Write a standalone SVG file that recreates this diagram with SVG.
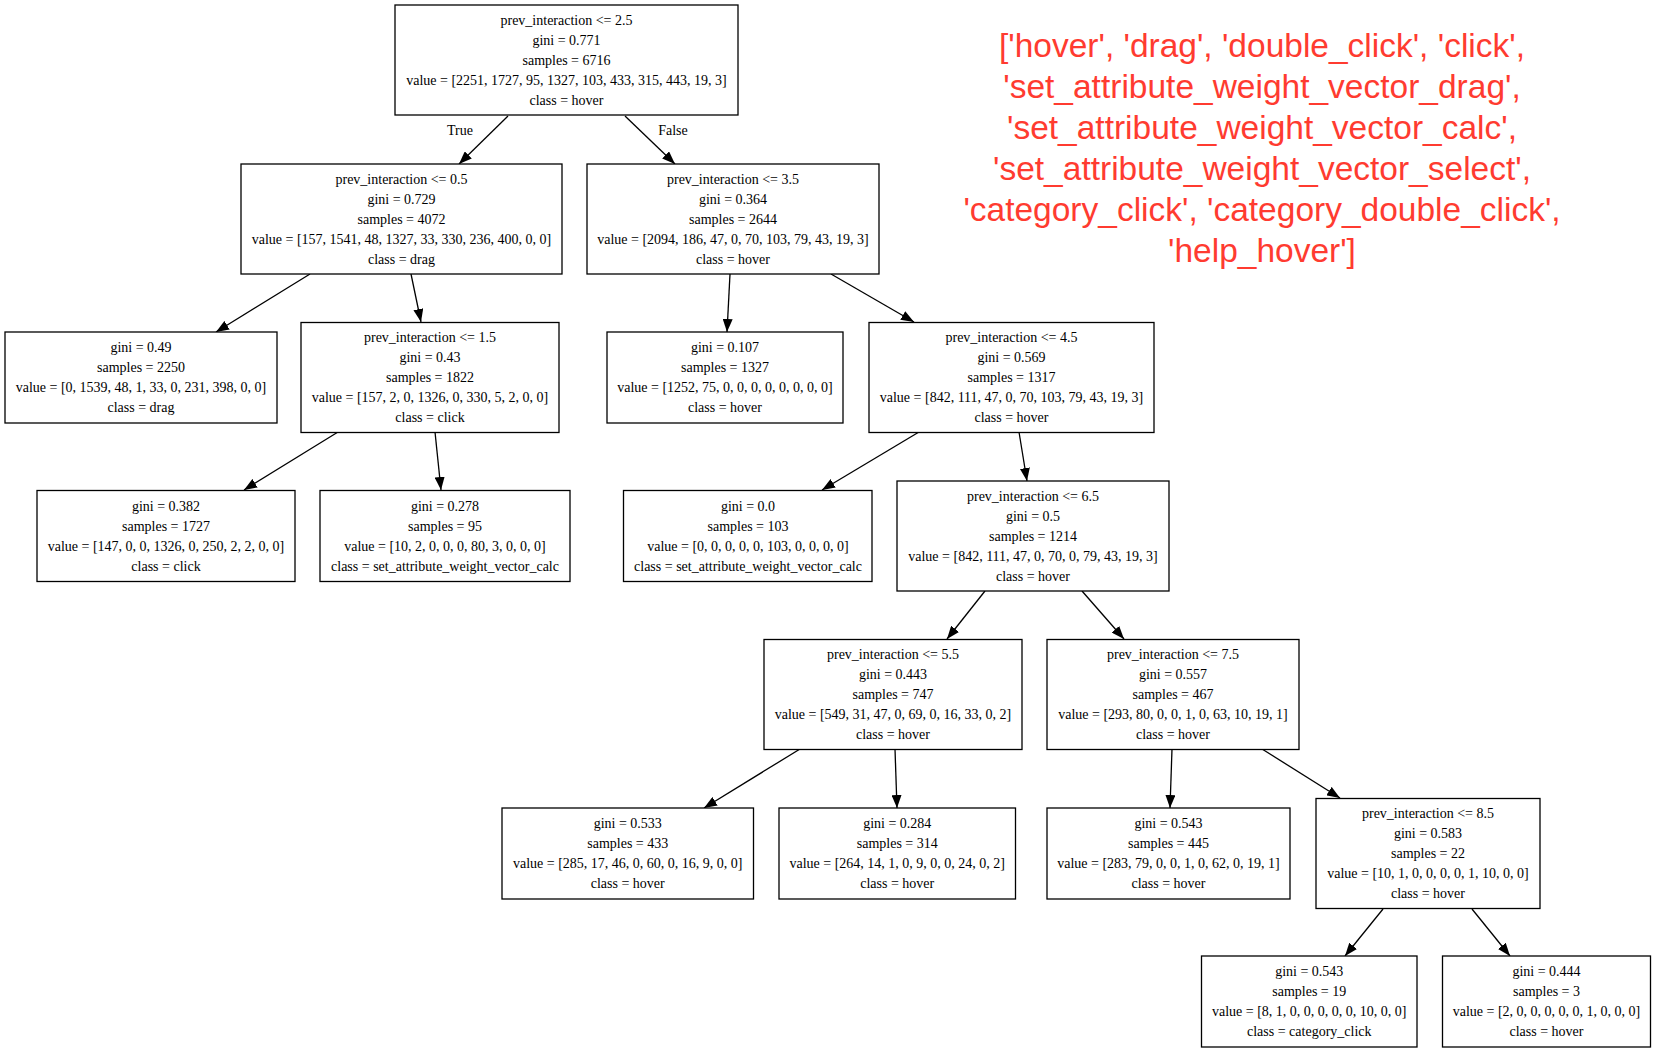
<svg xmlns="http://www.w3.org/2000/svg" width="1657" height="1053" viewBox="0 0 1657 1053">
<style>
.n rect{fill:#fff;stroke:#000;stroke-width:1.3}
.n text{font-family:"Liberation Serif","Times New Roman",serif;font-size:14px;fill:#000;text-anchor:middle}
.e line{stroke:#000;stroke-width:1.3;marker-end:url(#ah)}
.lbl{font-family:"Liberation Serif","Times New Roman",serif;font-size:14px;fill:#000;text-anchor:middle}
.red{font-family:"Liberation Sans",Arial,sans-serif;font-size:33.5px;fill:#ff3b30;text-anchor:middle}
</style>
<defs>
<marker id="ah" viewBox="0 0 13 10" refX="13" refY="5" markerWidth="13" markerHeight="10" markerUnits="userSpaceOnUse" orient="auto">
<polygon points="0,0 13,5 0,10" fill="#000"/>
</marker>
</defs>
<rect width="1657" height="1053" fill="#fff"/>
<g id="connectors" class="e">
<line x1="508" y1="116" x2="459" y2="164"/>
<line x1="625" y1="116" x2="675" y2="164"/>
<line x1="310" y1="274" x2="216" y2="332"/>
<line x1="411" y1="274" x2="421" y2="322"/>
<line x1="730" y1="274" x2="727" y2="332"/>
<line x1="831" y1="274" x2="914" y2="322"/>
<line x1="338" y1="432" x2="244" y2="490"/>
<line x1="435" y1="432" x2="441" y2="490"/>
<line x1="919" y1="432" x2="822" y2="490"/>
<line x1="1019" y1="432" x2="1027" y2="481"/>
<line x1="985" y1="591" x2="947" y2="639"/>
<line x1="1082" y1="591" x2="1124" y2="639"/>
<line x1="800" y1="749" x2="704" y2="808"/>
<line x1="895" y1="749" x2="897" y2="808"/>
<line x1="1172" y1="749" x2="1170" y2="808"/>
<line x1="1262" y1="749" x2="1340" y2="798"/>
<line x1="1383" y1="909" x2="1345" y2="956"/>
<line x1="1472" y1="909" x2="1510" y2="956"/>
<text class="lbl" x="460" y="135">True</text>
<text class="lbl" x="673" y="135">False</text>
</g>
<g id="n0" class="n"><rect x="395" y="5" width="343" height="110"/><text x="566.5" y="25">prev_interaction &lt;= 2.5</text><text x="566.5" y="45">gini = 0.771</text><text x="566.5" y="65">samples = 6716</text><text x="566.5" y="85">value = [2251, 1727, 95, 1327, 103, 433, 315, 443, 19, 3]</text><text x="566.5" y="105">class = hover</text></g>
<g id="n1" class="n"><rect x="241" y="164" width="321" height="110"/><text x="401.5" y="183.5">prev_interaction &lt;= 0.5</text><text x="401.5" y="203.5">gini = 0.729</text><text x="401.5" y="223.5">samples = 4072</text><text x="401.5" y="243.5">value = [157, 1541, 48, 1327, 33, 330, 236, 400, 0, 0]</text><text x="401.5" y="263.5">class = drag</text></g>
<g id="n2" class="n"><rect x="587" y="164" width="292" height="110"/><text x="733" y="183.5">prev_interaction &lt;= 3.5</text><text x="733" y="203.5">gini = 0.364</text><text x="733" y="223.5">samples = 2644</text><text x="733" y="243.5">value = [2094, 186, 47, 0, 70, 103, 79, 43, 19, 3]</text><text x="733" y="263.5">class = hover</text></g>
<g id="n3" class="n"><rect x="5" y="332" width="272" height="91"/><text x="141" y="352">gini = 0.49</text><text x="141" y="372">samples = 2250</text><text x="141" y="392">value = [0, 1539, 48, 1, 33, 0, 231, 398, 0, 0]</text><text x="141" y="412">class = drag</text></g>
<g id="n4" class="n"><rect x="301" y="322.5" width="258" height="110"/><text x="430" y="342">prev_interaction &lt;= 1.5</text><text x="430" y="362">gini = 0.43</text><text x="430" y="382">samples = 1822</text><text x="430" y="402">value = [157, 2, 0, 1326, 0, 330, 5, 2, 0, 0]</text><text x="430" y="422">class = click</text></g>
<g id="n5" class="n"><rect x="607" y="332" width="236" height="91"/><text x="725" y="352">gini = 0.107</text><text x="725" y="372">samples = 1327</text><text x="725" y="392">value = [1252, 75, 0, 0, 0, 0, 0, 0, 0, 0]</text><text x="725" y="412">class = hover</text></g>
<g id="n6" class="n"><rect x="869" y="322.5" width="285" height="110"/><text x="1011.5" y="342">prev_interaction &lt;= 4.5</text><text x="1011.5" y="362">gini = 0.569</text><text x="1011.5" y="382">samples = 1317</text><text x="1011.5" y="402">value = [842, 111, 47, 0, 70, 103, 79, 43, 19, 3]</text><text x="1011.5" y="422">class = hover</text></g>
<g id="n7" class="n"><rect x="37" y="490.5" width="258" height="91"/><text x="166" y="510.5">gini = 0.382</text><text x="166" y="530.5">samples = 1727</text><text x="166" y="550.5">value = [147, 0, 0, 1326, 0, 250, 2, 2, 0, 0]</text><text x="166" y="570.5">class = click</text></g>
<g id="n8" class="n"><rect x="320" y="490.5" width="250" height="91"/><text x="445" y="510.5">gini = 0.278</text><text x="445" y="530.5">samples = 95</text><text x="445" y="550.5">value = [10, 2, 0, 0, 0, 80, 3, 0, 0, 0]</text><text x="445" y="570.5">class = set_attribute_weight_vector_calc</text></g>
<g id="n9" class="n"><rect x="623.5" y="490.5" width="248.5" height="91"/><text x="748" y="510.5">gini = 0.0</text><text x="748" y="530.5">samples = 103</text><text x="748" y="550.5">value = [0, 0, 0, 0, 0, 103, 0, 0, 0, 0]</text><text x="748" y="570.5">class = set_attribute_weight_vector_calc</text></g>
<g id="n10" class="n"><rect x="897" y="481" width="272" height="110"/><text x="1033" y="500.5">prev_interaction &lt;= 6.5</text><text x="1033" y="520.5">gini = 0.5</text><text x="1033" y="540.5">samples = 1214</text><text x="1033" y="560.5">value = [842, 111, 47, 0, 70, 0, 79, 43, 19, 3]</text><text x="1033" y="580.5">class = hover</text></g>
<g id="n11" class="n"><rect x="764" y="639.5" width="258" height="110"/><text x="893" y="659">prev_interaction &lt;= 5.5</text><text x="893" y="679">gini = 0.443</text><text x="893" y="699">samples = 747</text><text x="893" y="719">value = [549, 31, 47, 0, 69, 0, 16, 33, 0, 2]</text><text x="893" y="739">class = hover</text></g>
<g id="n12" class="n"><rect x="1047" y="639.5" width="252" height="110"/><text x="1173" y="659">prev_interaction &lt;= 7.5</text><text x="1173" y="679">gini = 0.557</text><text x="1173" y="699">samples = 467</text><text x="1173" y="719">value = [293, 80, 0, 0, 1, 0, 63, 10, 19, 1]</text><text x="1173" y="739">class = hover</text></g>
<g id="n13" class="n"><rect x="502" y="808" width="251.5" height="91"/><text x="627.75" y="827.5">gini = 0.533</text><text x="627.75" y="847.5">samples = 433</text><text x="627.75" y="867.5">value = [285, 17, 46, 0, 60, 0, 16, 9, 0, 0]</text><text x="627.75" y="887.5">class = hover</text></g>
<g id="n14" class="n"><rect x="779" y="808" width="236.5" height="91"/><text x="897.25" y="827.5">gini = 0.284</text><text x="897.25" y="847.5">samples = 314</text><text x="897.25" y="867.5">value = [264, 14, 1, 0, 9, 0, 0, 24, 0, 2]</text><text x="897.25" y="887.5">class = hover</text></g>
<g id="n15" class="n"><rect x="1047" y="808" width="243" height="91"/><text x="1168.5" y="827.5">gini = 0.543</text><text x="1168.5" y="847.5">samples = 445</text><text x="1168.5" y="867.5">value = [283, 79, 0, 0, 1, 0, 62, 0, 19, 1]</text><text x="1168.5" y="887.5">class = hover</text></g>
<g id="n16" class="n"><rect x="1316" y="798.5" width="224" height="110"/><text x="1428" y="818">prev_interaction &lt;= 8.5</text><text x="1428" y="838">gini = 0.583</text><text x="1428" y="858">samples = 22</text><text x="1428" y="878">value = [10, 1, 0, 0, 0, 0, 1, 10, 0, 0]</text><text x="1428" y="898">class = hover</text></g>
<g id="n17" class="n"><rect x="1201.5" y="956" width="215.5" height="91"/><text x="1309.25" y="976">gini = 0.543</text><text x="1309.25" y="996">samples = 19</text><text x="1309.25" y="1016">value = [8, 1, 0, 0, 0, 0, 0, 10, 0, 0]</text><text x="1309.25" y="1036">class = category_click</text></g>
<g id="n18" class="n"><rect x="1442.5" y="956" width="208" height="91"/><text x="1546.5" y="976">gini = 0.444</text><text x="1546.5" y="996">samples = 3</text><text x="1546.5" y="1016">value = [2, 0, 0, 0, 0, 0, 1, 0, 0, 0]</text><text x="1546.5" y="1036">class = hover</text></g>
<g id="legend">
<text class="red" x="1262" y="57">['hover', 'drag', 'double_click', 'click',</text>
<text class="red" x="1262" y="98">'set_attribute_weight_vector_drag',</text>
<text class="red" x="1262" y="139">'set_attribute_weight_vector_calc',</text>
<text class="red" x="1262" y="180">'set_attribute_weight_vector_select',</text>
<text class="red" x="1262" y="221">'category_click', 'category_double_click',</text>
<text class="red" x="1262" y="262">'help_hover']</text>
</g>
</svg>
